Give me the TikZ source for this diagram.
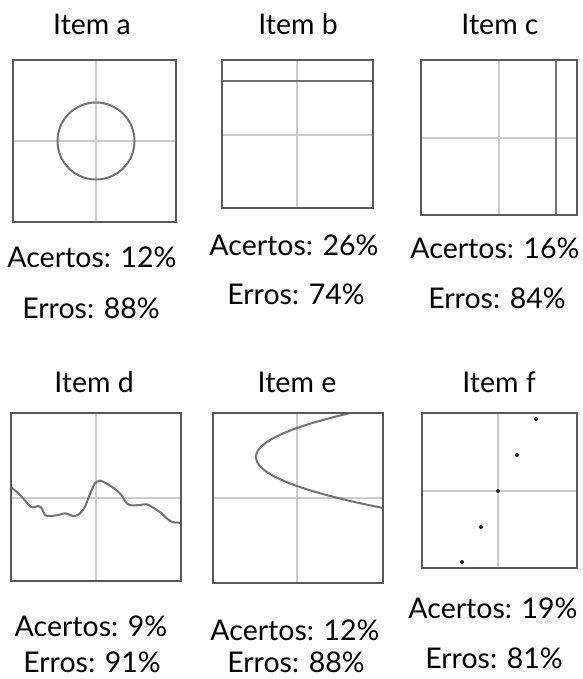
\documentclass[tikz,border=0pt]{standalone}
\usepackage{fontspec}
\setmainfont{Lato}
\begin{document}
\begin{tikzpicture}[x=1pt,y=-1pt,
  lbl/.style={anchor=base,inner sep=0pt,font=\fontsize{28.5}{30}\selectfont},
  frame/.style={draw=black!65,line width=2pt},
  axis/.style={draw=black!20,line width=1.8pt},
  curve/.style={draw=black!55,line width=2pt,line join=round,line cap=round},
  pt/.style={circle,fill=black!85,inner sep=0pt,minimum size=4pt}]
\useasboundingbox (0,0) rectangle (582,679);
% ---------- labels row 1
\node[lbl] (ta) at (92,35) {Item a};
\node[lbl] (tb) at (298,35) {Item b};
\node[lbl] (tc) at (500,35) {Item c};
\node[lbl] (aa) at (92,267) {Acertos: 12\%};
\node[lbl] (ea) at (91,318) {Erros: 88\%};
\node[lbl] (ab) at (294,255) {Acertos: 26\%};
\node[lbl] (eb) at (296,304) {Erros: 74\%};
\node[lbl] (ac) at (495,258) {Acertos: 16\%};
\node[lbl] (ec) at (497,308) {Erros: 84\%};
% ---------- labels row 2
\node[lbl] (td) at (94,392) {Item d};
\node[lbl] (te) at (297,392) {Item e};
\node[lbl] (tf) at (499,392) {Item f};
\node[lbl] (ad) at (91,636) {Acertos: 9\%};
\node[lbl] (ed) at (92,672) {Erros: 91\%};
\node[lbl] (ae) at (295,640) {Acertos: 12\%};
\node[lbl] (ee) at (296,672) {Erros: 88\%};
\node[lbl] (af) at (493,618) {Acertos: 19\%};
\node[lbl] (ef) at (494,668) {Erros: 81\%};
% ---------- panel a: circle
\draw[axis] (13,141) -- (176,141);
\draw[axis] (96,60) -- (96,222);
\draw[curve] (96,141) circle[radius=38.5];
\draw[frame] (13,60) rectangle (176,222);
% ---------- panel b: horizontal line
\draw[axis] (222,135) -- (373,135);
\draw[axis] (297,60) -- (297,208);
\draw[curve,line cap=butt] (222,81) -- (373,81);
\draw[frame] (222,60) rectangle (373,208);
% ---------- panel c: vertical line
\draw[axis] (421,138) -- (577,138);
\draw[axis] (499,60) -- (499,215);
\draw[curve,line cap=butt] (556,60) -- (556,215);
\draw[frame] (421,60) rectangle (577,215);
% ---------- panel d: wiggly curve
\draw[axis] (11,498) -- (181,498);
\draw[axis] (96,413) -- (96,581);
\begin{scope}
\clip (11,413) rectangle (181,581);
\draw[curve] plot[smooth,tension=0.55] coordinates {
 (10.7,486.7) (20,495) (30,506) (33.3,507.3) (38.3,506) (41.7,508.3) (45,515)
 (50,516) (58.3,515) (65,513.3) (70,515) (75,516) (80,513.3) (85,506.7)
 (88.3,498.3) (91.7,490) (95,483.3) (100,480.7) (105,482.7) (111.7,486.7)
 (118.3,491.7) (122.7,496.7) (126.7,503.3) (131.7,505.3) (140,505) (146.7,504.3)
 (151.7,506.7) (156.7,510) (161.7,513.3) (166.7,518.3) (171.7,521.7) (176.7,522.7) (181,522.7)};
\end{scope}
\draw[frame] (11,413) rectangle (181,581);
% ---------- panel e: parabola x = 0.4(y-5)^2 - 5
\draw[axis] (213,498) -- (383,498);
\draw[axis] (297,413) -- (297,583);
\begin{scope}
\clip (213,413) rectangle (383,583);
\draw[curve,line cap=butt] plot[domain=-2:11,samples=80,variable=\t]
  ({297+8.2*(0.4*(\t-5)*(\t-5)-5)},{498-8.2*\t});
\end{scope}
\draw[frame] (213,413) rectangle (383,583);
% ---------- panel f: points
\draw[axis] (422,491) -- (577,491);
\draw[axis] (498,413) -- (498,568);
\node[pt] (p1) at (536,419) {};
\node[pt] (p2) at (517,455) {};
\node[pt] (p3) at (498,491) {};
\node[pt] (p4) at (481,527) {};
\node[pt] (p5) at (462,562) {};
\draw[frame] (422,413) rectangle (577,568);
\end{tikzpicture}
\end{document}
